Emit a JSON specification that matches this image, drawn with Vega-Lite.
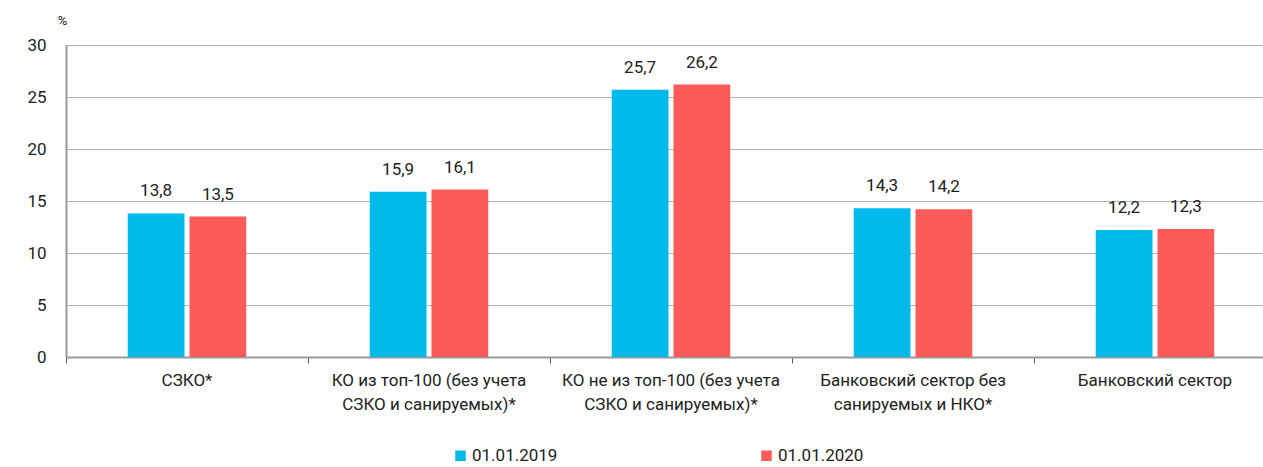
{
  "$schema": "https://vega.github.io/schema/vega-lite/v6.json",
  "width": 1210,
  "height": 312,
  "autosize": {"type": "none"},
  "padding": {"left": 66, "top": 45, "right": -13, "bottom": 110},
  "background": "white",
  "config": {
    "locale": {"number": {"decimal": ",", "thousands": " ", "grouping": [3], "currency": ["", ""]}},
    "font": "Roboto",
    "view": {"stroke": null}
  },
  "data": {
    "values": [
      {"category": "СЗКО*", "date": "01.01.2019", "value": 13.8},
      {"category": "СЗКО*", "date": "01.01.2020", "value": 13.5},
      {"category": "КО из топ-100 (без учета|СЗКО и санируемых)*", "date": "01.01.2019", "value": 15.9},
      {"category": "КО из топ-100 (без учета|СЗКО и санируемых)*", "date": "01.01.2020", "value": 16.1},
      {"category": "КО не из топ-100 (без учета|СЗКО и санируемых)*", "date": "01.01.2019", "value": 25.7},
      {"category": "КО не из топ-100 (без учета|СЗКО и санируемых)*", "date": "01.01.2020", "value": 26.2},
      {"category": "Банковский сектор без|санируемых и НКО*", "date": "01.01.2019", "value": 14.3},
      {"category": "Банковский сектор без|санируемых и НКО*", "date": "01.01.2020", "value": 14.2},
      {"category": "Банковский сектор", "date": "01.01.2019", "value": 12.2},
      {"category": "Банковский сектор", "date": "01.01.2020", "value": 12.3}
    ]
  },
  "encoding": {
    "x": {
      "field": "category",
      "type": "nominal",
      "sort": null,
      "scale": {"paddingInner": 0, "paddingOuter": 0},
      "axis": {
        "title": null,
        "labelAngle": 0,
        "labelExpr": "split(datum.value, '|')",
        "labelFont": "Roboto",
        "labelFontSize": 17,
        "labelColor": "#222222",
        "labelLineHeight": 24,
        "labelPadding": 9,
        "labelLimit": 400,
        "labelBaseline": "top",
        "bandPosition": 0,
        "ticks": true,
        "tickSize": 6,
        "tickColor": "#555555",
        "tickWidth": 1,
        "domainColor": "#999999",
        "domainWidth": 2,
        "grid": false
      }
    },
    "xOffset": {
      "field": "date",
      "type": "nominal",
      "scale": {"paddingInner": 0.081, "paddingOuter": 1.008}
    },
    "y": {
      "field": "value",
      "type": "quantitative",
      "scale": {"domain": [0, 30]},
      "axis": {
        "title": "%",
        "titleAngle": 0,
        "titleX": -4,
        "titleY": -18,
        "titleAlign": "center",
        "titleBaseline": "bottom",
        "titleFont": "Roboto",
        "titleFontSize": 13,
        "titleFontWeight": "normal",
        "titleColor": "#222222",
        "values": [0, 5, 10, 15, 20, 25, 30],
        "labelFont": "Roboto",
        "labelFontSize": 17,
        "labelColor": "#222222",
        "labelPadding": 20,
        "ticks": false,
        "domainColor": "#999999",
        "domainWidth": 2,
        "grid": true,
        "gridColor": "#666666",
        "gridDash": [1, 1],
        "gridWidth": 1
      }
    }
  },
  "layer": [
    {
      "mark": {"type": "bar"},
      "encoding": {
        "color": {
          "field": "date",
          "type": "nominal",
          "scale": {"domain": ["01.01.2019", "01.01.2020"], "range": ["#00B9EB", "#FF5A5A"]},
          "legend": {
            "title": null,
            "orient": "none",
            "direction": "horizontal",
            "legendX": 386,
            "legendY": 402,
            "symbolType": "square",
            "symbolSize": 110,
            "symbolStrokeWidth": 0,
            "labelFont": "Roboto",
            "labelFontSize": 17,
            "labelColor": "#222222",
            "labelOffset": 3,
            "columnPadding": 200
          }
        }
      }
    },
    {
      "mark": {"type": "text", "baseline": "alphabetic", "dy": -17, "fontSize": 17, "font": "Roboto", "color": "#222222"},
      "encoding": {
        "text": {"field": "value", "type": "quantitative", "format": ".1f"}
      }
    }
  ]
}
